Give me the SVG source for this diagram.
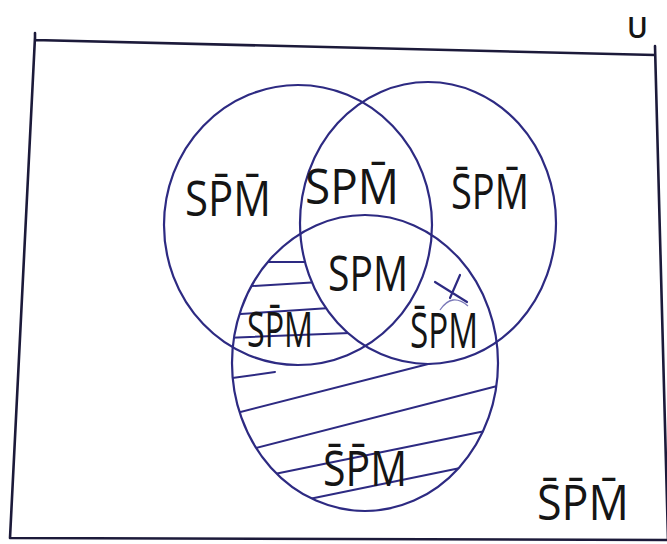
<svg xmlns="http://www.w3.org/2000/svg" width="667" height="544" viewBox="0 0 667 544">
<style>
.frame{fill:none;stroke:#1c1a3a;stroke-width:2.6;stroke-linecap:round}
.set{fill:none;stroke:#2d2a82;stroke-width:2.2}
.hatch{stroke:#2d2a82;stroke-width:2;stroke-linecap:round}
.lbl{font-family:"Open Sans","Liberation Sans","DejaVu Sans",sans-serif;font-weight:400;font-size:50px;fill:#151515}
</style>
<defs>
<mask id="mOnly" maskUnits="userSpaceOnUse" x="0" y="0" width="667" height="544">
<rect width="667" height="544" fill="black"/>
<ellipse cx="365" cy="363" rx="133" ry="148" fill="white"/>
<ellipse cx="428" cy="223" rx="128" ry="141" fill="black"/>
</mask>
</defs>
<rect width="667" height="544" fill="#ffffff"/>
<g id="universe">
<path class="frame" d="M35,33 L35,40 L655,55 M35,37 L10,538 M10,538 L667,540 M655,46 L668,540"/>
<text x="627" y="38" font-family="Open Sans, Liberation Sans, DejaVu Sans, sans-serif" font-weight="600" font-size="28" fill="#151515">U</text>
<text class="lbl" x="537" y="520" textLength="92" lengthAdjust="spacingAndGlyphs">S̄P̄M̄</text>
</g>
<g id="connectors">
<g mask="url(#mOnly)">
<line class="hatch" x1="255" y1="262" x2="320" y2="262"/>
<line class="hatch" x1="235" y1="287" x2="320" y2="282"/>
<line class="hatch" x1="225" y1="315" x2="330" y2="308"/>
<line class="hatch" x1="225" y1="338" x2="350" y2="333"/>
<line class="hatch" x1="225" y1="379" x2="275" y2="372"/>
<line class="hatch" x1="225" y1="416" x2="440" y2="361"/>
<line class="hatch" x1="240" y1="452" x2="505" y2="384"/>
<line class="hatch" x1="255" y1="478" x2="495" y2="429"/>
<line class="hatch" x1="280" y1="505" x2="470" y2="466"/>
</g>
</g>
<g id="set-S"><ellipse class="set" cx="298" cy="225" rx="134" ry="140"/></g>
<g id="set-P"><ellipse class="set" cx="428" cy="223" rx="128" ry="141"/></g>
<g id="set-M"><ellipse class="set" cx="365" cy="363" rx="133" ry="148"/></g>
<g id="region-S-notP-notM"><text class="lbl" x="185" y="216" textLength="86" lengthAdjust="spacingAndGlyphs">SP̄M̄</text></g>
<g id="region-S-P-notM"><text class="lbl" x="305" y="204" textLength="94" lengthAdjust="spacingAndGlyphs">SPM̄</text></g>
<g id="region-notS-P-notM"><text class="lbl" x="451" y="209" textLength="78" lengthAdjust="spacingAndGlyphs">S̄PM̄</text></g>
<g id="region-S-P-M"><text class="lbl" x="328" y="291" textLength="80" lengthAdjust="spacingAndGlyphs">SPM</text></g>
<g id="region-S-notP-M"><text class="lbl" x="247" y="347" textLength="66" lengthAdjust="spacingAndGlyphs">SP̄M</text></g>
<g id="region-notS-P-M">
<text class="lbl" x="410" y="348" textLength="68" lengthAdjust="spacingAndGlyphs">S̄PM</text>
<path d="M435,282 L467,302 M460,275 L450,298" fill="none" stroke="#2d2a82" stroke-width="2.2" stroke-linecap="round"/>
<path d="M440,310 Q452,292 468,306" fill="none" stroke="#7a78b8" stroke-width="1.3"/>
</g>
<g id="region-notS-notP-M"><text class="lbl" x="323" y="486" textLength="84" lengthAdjust="spacingAndGlyphs">S̄P̄M</text></g>
</svg>
